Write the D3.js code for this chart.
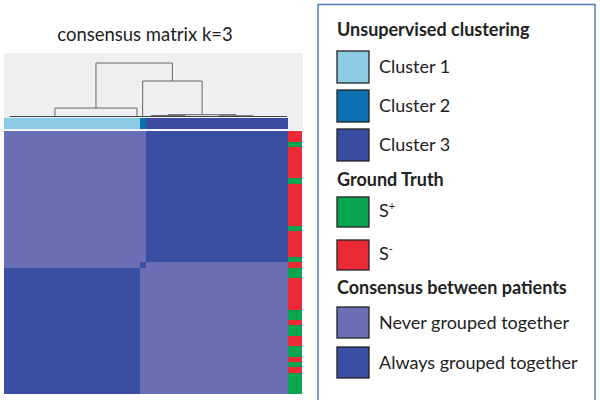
<!DOCTYPE html>
<html>
<head>
<meta charset="utf-8">
<script src="https://cdn.jsdelivr.net/npm/d3@7"></script>
<style>
  body { margin: 0; background: #fff; }
  svg { display: block; font-family: Lato, "Open Sans", sans-serif; }
</style>
</head>
<body>
<svg id="chart" width="600" height="400"></svg>
<script>
// patients in dendrogram (column) order, cluster id per patient
const clusterOfPatient = [
  1,1,1,1,1,1,1,1,1,1,1,1,1,1,1,1,1,1,1,1,1,1,1,1,
  2,
  3,3,3,3,3,3,3,3,3,3,3,3,3,3,3,3,3,3,3,3,3,3,3,3,3
];
// ground truth per patient, same order (S+ / S-)
const groundTruth = [
  "+","+","+","+","-","+","-","+","+","-","-","+","+","-","+","+","-","-","-","-","-","-","+","+",
  "-",
  "+","-","-","-","-","-","+","-","-","-","-","-","-","-","-","+","-","-","-","-","-","-","+","-","-"
];
const clusterNames = ["Cluster 1", "Cluster 2", "Cluster 3"];
const clusterColors = ["#8ccbe3", "#0a70b0", "#3a4ca0"];
const truthNames = ["S+", "S-"];
const truthColors = ["#0aa550", "#ec2a36"];
const consensusNames = ["Never grouped together", "Always grouped together"];
const consensusColors = ["#6a6fb5", "#3a4ea3"];

// dendrogram: x = leaf index (column units), h = merge height
const dendro = {h: 1.0, children: [
  {h: 0.15, children: [{h: 0, x: 8.5}, {h: 0, x: 23}]},
  {h: 0.66, children: [
    {h: 0, x: 24},
    {h: 0.025, children: [
      {h: 0.01, children: [{h: 0, x: 25.5}, {h: 0, x: 31.5}]},
      {h: 0.005, children: [{h: 0, x: 37.5}, {h: 0, x: 43.5}]}
    ]}
  ]}
]};

const svg = d3.select("#chart");
const n = clusterOfPatient.length;
const ids = d3.range(n);

const x = d3.scaleBand().domain(ids).range([4, 287]);
const y = d3.scaleBand().domain(ids.slice().reverse()).range([130.5, 393]);
const hy = d3.scaleLinear().domain([0, 1]).range([116, 63]);
const xc = i => x(0) + x.bandwidth() * (i + 0.5);

// title
svg.append("text").attr("x", 145).attr("y", 41).attr("text-anchor", "middle")
  .attr("font-size", 18.5).attr("fill", "#222").text("consensus matrix k=3");

// grey dendrogram panel
svg.append("rect").attr("x", 4).attr("y", 53).attr("width", 299).attr("height", 77)
  .attr("fill", "#eeeff1");

// dendrogram
const root = d3.hierarchy(dendro);
root.eachAfter(d => { if (d.children) d.data.x = d3.mean([d.children[0].data.x, d.children[d.children.length - 1].data.x]); });
const dg = svg.append("g").attr("fill", "none").attr("stroke", "#666").attr("stroke-width", 1);
root.descendants().filter(d => d.children).forEach(d => {
  const xs = d.children.map(c => c.data.x);
  dg.append("line").attr("x1", xc(d3.min(xs))).attr("x2", xc(d3.max(xs)))
    .attr("y1", hy(d.data.h)).attr("y2", hy(d.data.h));
  d.children.forEach(c => {
    dg.append("line").attr("x1", xc(c.data.x)).attr("x2", xc(c.data.x))
      .attr("y1", hy(d.data.h)).attr("y2", hy(c.data.h));
  });
});
dg.append("line").attr("x1", xc(0.5)).attr("x2", x(n - 1) + x.bandwidth())
  .attr("y1", hy(0) + 0.5).attr("y2", hy(0) + 0.5).attr("stroke", "#444");

// cluster bar
svg.append("g").attr("shape-rendering", "crispEdges").selectAll("rect").data(ids).join("rect")
  .attr("x", d => x(d)).attr("y", 117.5).attr("width", x.bandwidth() + 0.5).attr("height", 11)
  .attr("fill", d => clusterColors[clusterOfPatient[d] - 1]);

// consensus heatmap
const cells = [];
ids.forEach(r => ids.forEach(c => cells.push({r, c, v: clusterOfPatient[r] === clusterOfPatient[c] ? 1 : 0})));
svg.append("g").attr("shape-rendering", "crispEdges").selectAll("rect").data(cells).join("rect")
  .attr("x", d => x(d.c)).attr("y", d => y(d.r))
  .attr("width", x.bandwidth() + 0.5).attr("height", y.bandwidth() + 0.5)
  .attr("fill", d => consensusColors[d.v]);

// ground truth strip
svg.append("g").attr("shape-rendering", "crispEdges").selectAll("rect").data(ids).join("rect")
  .attr("x", 288).attr("y", d => y(d)).attr("width", 14).attr("height", y.bandwidth() + 0.5)
  .attr("fill", d => groundTruth[d] === "+" ? truthColors[0] : truthColors[1]);

// legend
const lg = svg.append("g");
lg.append("rect").attr("x", 318).attr("y", 4.5).attr("width", 277).attr("height", 400)
  .attr("fill", "#fff").attr("stroke", "#4f7cb3").attr("stroke-width", 1.5);

const header = (t, yy) => lg.append("text").attr("x", 337).attr("y", yy)
  .attr("font-size", 18).attr("font-weight", "bold").attr("fill", "#222").text(t);
const item = (color, yTop, h, label, ty) => {
  lg.append("rect").attr("x", 337).attr("y", yTop).attr("width", 32).attr("height", h)
    .attr("fill", color).attr("stroke", "#222").attr("stroke-width", 1.3);
  return lg.append("text").attr("x", 379).attr("y", ty).attr("font-size", 18)
    .attr("fill", "#222").text(label);
};

header("Unsupervised clustering", 36);
[51, 90, 129].forEach((t, i) => item(clusterColors[i], t, 32, clusterNames[i], t + 22));

header("Ground Truth", 186);
[197, 240].forEach((t, i) => {
  const tx = item(truthColors[i], t, 30, "", 0);
  tx.attr("x", 379).attr("y", t + 20);
  tx.append("tspan").text(truthNames[i][0]);
  tx.append("tspan").attr("font-size", 11).attr("dy", -7).text(truthNames[i][1] === "-" ? "-" : "+");
});

header("Consensus between patients", 294);
[307, 347].forEach((t, i) => item(consensusColors[i], t, 31, consensusNames[i], t + 22));
</script>
</body>
</html>
